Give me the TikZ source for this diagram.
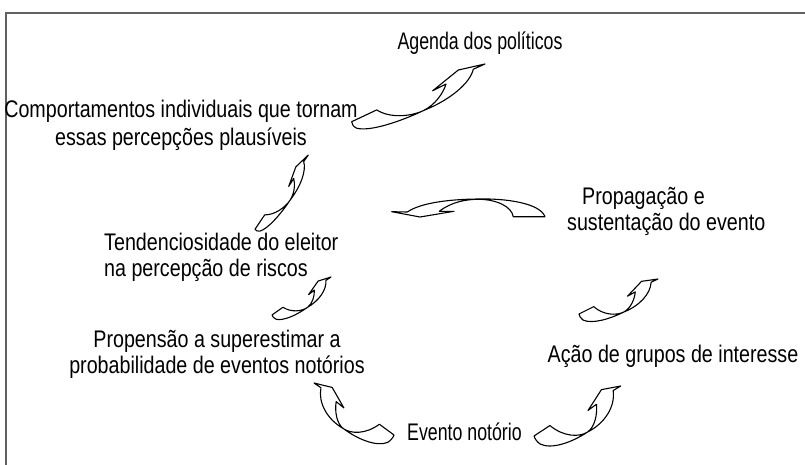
\documentclass[tikz,border=0pt]{standalone}
\usepackage{fontspec}
\setmainfont[FakeStretch=0.82]{Liberation Sans}
\newfontfamily\condfont[FakeStretch=0.74]{Liberation Sans}
\newcommand{\cvarrow}[6]{%
  \pgfmathsetmacro\cva{((#3)-(#1))/100}%
  \pgfmathsetmacro\cvb{((#2)-(#4))/100}%
  \pgfmathsetmacro\cvc{-(#6)*(#5)*\cvb}%
  \pgfmathsetmacro\cvd{(#6)*(#5)*\cva}%
  \begin{scope}[cm={\cva,\cvb,\cvc,\cvd,(#1,-#2)}]
    \path[arrowline] (0,0) -- (19,0.6)
      .. controls (25.1,-8.3) and (38.2,-12.8) .. (48.2,-12.6)
      .. controls (57.2,-12.2) and (65.6,-7.1) .. (69.9,-2.0)
      -- (59.6,-2.6) -- (81.5,3.5) -- (100,0) -- (91.2,-0.1)
      .. controls (85.2,-8.1) and (68,-13.2) .. (48.2,-12.6)
      .. controls (30.5,-13.2) and (8.8,-11.3) .. (1.4,-5.5)
      .. controls (-0.4,-3.6) and (-0.6,-1.45) .. cycle;
  \end{scope}}
\begin{document}
\begin{tikzpicture}[x=1pt,y=1pt,
  lbl/.style={inner sep=0pt, font=\fontsize{24}{26}\selectfont},
  arrowline/.style={draw=black, line width=1.1pt, line join=round}]
\useasboundingbox (0,0) rectangle (805,-465);
\clip (0,0) rectangle (805,-465);
\draw[black!62, line width=1.2pt] (806,-13) -| (6,-470);

% labels
\node[lbl, anchor=base, font=\fontsize{24}{26}\selectfont\condfont] (agenda) at (480,-50) {Agenda dos políticos};
\node[lbl, align=center, anchor=north, font=\fontsize{24}{28}\selectfont] (comport) at (181,-99.5) {Comportamentos individuais que tornam\\essas percepções plausíveis};
\node[lbl, align=left, anchor=north west] (tend) at (104,-232.5) {Tendenciosidade do eleitor\\na percepção de riscos};
\node[lbl, align=center, anchor=north] (propens) at (217,-329.5) {Propensão a superestimar a\\probabilidade de eventos notórios};
\node[lbl, anchor=base west, font=\fontsize{24}{26}\selectfont\condfont] (evento) at (407,-440) {Evento notório};
\node[lbl, anchor=base] (acao) at (673,-362) {Ação de grupos de interesse};
\node[lbl, align=left, anchor=north west] (propag) at (567,-187.5) {\hspace*{15pt}Propagação e\\sustentação do evento};

% curved block arrows
\cvarrow{351.7}{121.7}{485}{64}{1}{1}
\cvarrow{255}{229.3}{308.3}{155}{1}{1}
\cvarrow{579}{314}{658}{279}{1.5}{1}
\cvarrow{272}{315}{331}{277}{1.45}{1}
\cvarrow{394}{435}{314}{383}{1.85}{-1}
\cvarrow{534}{436}{620.7}{386}{1.85}{1}

% middle arching arrow pointing left
\path[arrowline] (391.7,-211.7) -- (420,-217) -- (454,-211.3) -- (439.3,-211.3)
  .. controls (451.7,-201.7) and (466.7,-199.3) .. (478.3,-199.3)
  .. controls (496.7,-199.3) and (511.7,-206.7) .. (513.3,-216.7)
  -- (545,-216.7)
  .. controls (540,-203.3) and (506.7,-198.3) .. (478.3,-199)
  .. controls (446.7,-199.3) and (420,-203.3) .. (407.3,-212)
  -- cycle;
\end{tikzpicture}
\end{document}
